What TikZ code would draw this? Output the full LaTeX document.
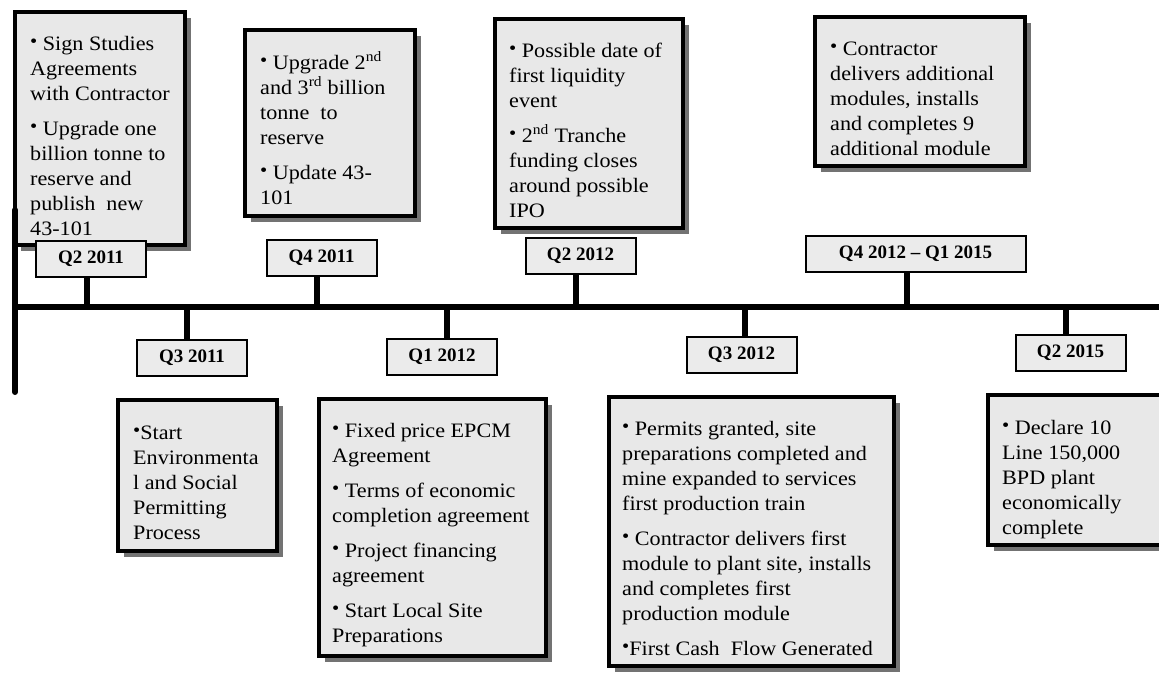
\documentclass[tikz,border=0pt]{standalone}
\usepackage{fontspec}
\setmainfont{Liberation Serif}[FakeStretch=1.08]
\newfontfamily\labelfont{Liberation Serif}[Ligatures=TeX]
\usetikzlibrary{shadows}
\newcommand{\bul}{\raisebox{3pt}{\fontsize{19}{19}\selectfont\textbullet}}
\newcommand{\sups}[1]{\textsuperscript{#1}}
\begin{document}
\begin{tikzpicture}[x=1pt,y=-1pt,
  evbox/.style={draw=black, line width=3.5pt, fill=black!9, rectangle, inner sep=0pt, outer sep=0pt, anchor=north west,
    drop shadow={shadow xshift=6pt, shadow yshift=-6pt, fill=black!55, opacity=1}},
  evtext/.style={anchor=base west, inner sep=0pt, font=\fontsize{20.5}{25}\selectfont},
  qlabel/.style={draw=black, line width=2pt, fill=black!8, rectangle, inner sep=0pt,
    minimum height=36pt, minimum width=110pt, font=\labelfont\fontsize{19}{21}\selectfont\bfseries},
  axisline/.style={line width=6pt},
  tickline/.style={line width=6pt}]
\clip (0,0) rectangle (1159,675);

% top event boxes
\node[evbox, minimum width=170pt, minimum height=233pt] (bA) at (15,12) {};
\node[evbox, minimum width=170pt, minimum height=186pt] (bB) at (245,30) {};
\node[evbox, minimum width=188pt, minimum height=209pt] (bC) at (495,19) {};
\node[evbox, minimum width=210pt, minimum height=149pt] (bD) at (815,17) {};
% bottom event boxes
\node[evbox, minimum width=159pt, minimum height=151pt] (bE) at (118,400) {};
\node[evbox, minimum width=227pt, minimum height=257pt] (bF) at (319,399) {};
\node[evbox, minimum width=285pt, minimum height=269pt] (bG) at (609,397) {};
\node[evbox, minimum width=200pt, minimum height=150pt] (bH) at (988,395) {};

% texts
\node[evtext] (tA) at (30,50) {\begin{tabular}[t]{@{}l@{}}
\bul\ Sign Studies\\ Agreements\\ with Contractor\\[10pt]
\bul\ Upgrade one\\ billion tonne to\\ reserve and\\ publish\ \ new\\ 43-101\end{tabular}};
\node[evtext] (tB) at (260,69) {\begin{tabular}[t]{@{}l@{}}
\bul\ Upgrade 2\sups{nd}\\ and 3\sups{rd} billion\\ tonne\ \ to\\ reserve\\[10pt]
\bul\ Update 43-\\ 101\end{tabular}};
\node[evtext] (tC) at (509,57) {\begin{tabular}[t]{@{}l@{}}
\bul\ Possible date of\\ first liquidity\\ event\\[10pt]
\bul\ 2\sups{nd} Tranche\\ funding closes\\ around possible\\ IPO\end{tabular}};
\node[evtext] (tD) at (830,55) {\begin{tabular}[t]{@{}l@{}}
\bul\ Contractor\\ delivers additional\\ modules, installs\\ and completes 9\\ additional module\end{tabular}};
\node[evtext] (tE) at (133,439) {\begin{tabular}[t]{@{}l@{}}
\bul Start\\ Environmenta\\ l and Social\\ Permitting\\ Process\end{tabular}};
\node[evtext] (tF) at (332,437) {\begin{tabular}[t]{@{}l@{}}
\bul\ Fixed price EPCM\\ Agreement\\[10pt]
\bul\ Terms of economic\\ completion agreement\\[10pt]
\bul\ Project financing\\ agreement\\[10pt]
\bul\ Start Local Site\\ Preparations\end{tabular}};
\node[evtext] (tG) at (622,435) {\begin{tabular}[t]{@{}l@{}}
\bul\ Permits granted, site\\ preparations completed and\\ mine expanded to services\\ first production train\\[10pt]
\bul\ Contractor delivers first\\ module to plant site, installs\\ and completes first\\ production module\\[10pt]
\bul First Cash\ \ Flow Generated\end{tabular}};
\node[evtext] (tH) at (1002,434) {\begin{tabular}[t]{@{}l@{}}
\bul\ Declare 10\\ Line 150,000\\ BPD plant\\ economically\\ complete\end{tabular}};

% timeline
\coordinate (tl) at (15,307);
\coordinate (tr) at (1165,307);
\coordinate (vt) at (15,210);
\coordinate (vb) at (15,392);
\draw[axisline] (tl) -- (tr);
\draw[axisline, line cap=round] (vt) -- (vb);

% labels
\node[qlabel] (l1) at (91,258.5) {Q2 2011};
\node[qlabel] (l2) at (321.5,257.5) {Q4 2011};
\node[qlabel] (l3) at (580.5,256) {Q2 2012};
\node[qlabel, minimum width=220pt] (l4) at (915.5,254) {Q4 2012 \textendash{} Q1 2015};
\node[qlabel] (l5) at (192,358) {Q3 2011};
\node[qlabel] (l6) at (442,356.5) {Q1 2012};
\node[qlabel] (l7) at (741.5,355) {Q3 2012};
\node[qlabel] (l8) at (1070.5,352.5) {Q2 2015};

% ticks
\coordinate (k1) at (87,307);
\coordinate (k2) at (317,307);
\coordinate (k3) at (576,307);
\coordinate (k4) at (907,307);
\coordinate (k5) at (187,307);
\coordinate (k6) at (447,307);
\coordinate (k7) at (745,307);
\coordinate (k8) at (1066,307);
\draw[tickline] (k1) -- (k1 |- l1.south);
\draw[tickline] (k2) -- (k2 |- l2.south);
\draw[tickline] (k3) -- (k3 |- l3.south);
\draw[tickline] (k4) -- (k4 |- l4.south);
\draw[tickline] (k5) -- (k5 |- l5.north);
\draw[tickline] (k6) -- (k6 |- l6.north);
\draw[tickline] (k7) -- (k7 |- l7.north);
\draw[tickline] (k8) -- (k8 |- l8.north);
\end{tikzpicture}
\end{document}
